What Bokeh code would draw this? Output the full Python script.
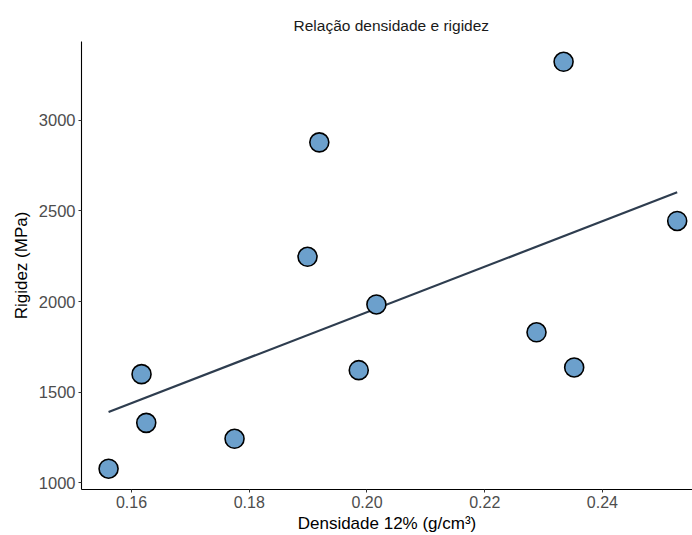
from bokeh.plotting import figure
from bokeh.models import Range1d, NumeralTickFormatter, FixedTicker
from bokeh.embed import file_html
from bokeh.resources import INLINE

# Data
densidade = [0.1561, 0.1617, 0.1625, 0.1775, 0.1899, 0.1919, 0.1986, 0.2016, 0.2288, 0.2334, 0.2352, 0.2527]
rigidez = [1077, 1599, 1330, 1242, 2247, 2879, 1621, 1984, 1830, 3324, 1636, 2445]
trend_x = [0.1561, 0.2527]
trend_y = [1390, 2603]
x_ticks = [0.16, 0.18, 0.20, 0.22, 0.24]
y_ticks = [1000, 1500, 2000, 2500, 3000]

FONT = "Liberation Sans"

p = figure(width=692, height=535, output_backend="svg", toolbar_location=None,
           x_range=Range1d(0.1515, 0.2553), y_range=Range1d(962, 3436),
           min_border_left=81, min_border_right=0, min_border_top=41, min_border_bottom=43,
           title="Relação densidade e rigidez")

p.title.align = "left"
p.title.offset = 212
p.title.standoff = 16
p.title.text_font = FONT
p.title.text_font_size = "15.5px"
p.title.text_font_style = "normal"
p.title.text_color = "#1a1a1a"

p.xgrid.visible = False
p.ygrid.visible = False
p.outline_line_color = None
p.background_fill_color = "white"
p.border_fill_color = "white"

p.line(trend_x, trend_y, line_color="#2e3d4f", line_width=2.2)
p.scatter(densidade, rigidez, size=19, fill_color="#6ca0cc", line_color="black", line_width=1.6)

for ax in (p.xaxis[0], p.yaxis[0]):
    ax.axis_line_color = "black"
    ax.axis_line_width = 1.1
    ax.major_tick_line_color = "#333333"
    ax.major_tick_in = 0
    ax.major_tick_out = 3
    ax.minor_tick_line_color = None
    ax.major_label_text_font = FONT
    ax.major_label_text_font_size = "16px"
    ax.major_label_text_color = "#4d4d4d"
    ax.axis_label_text_font = FONT
    ax.axis_label_text_font_size = "17px"
    ax.axis_label_text_font_style = "normal"
    ax.axis_label_text_color = "black"
    ax.major_label_standoff = 3
    ax.axis_label_standoff = 3

p.yaxis[0].major_label_text_font_size = "16.5px"
p.yaxis[0].axis_label_standoff = 5

p.xaxis.ticker = FixedTicker(ticks=x_ticks)
p.yaxis.ticker = FixedTicker(ticks=y_ticks)
p.xaxis.formatter = NumeralTickFormatter(format="0.00")
p.yaxis.formatter = NumeralTickFormatter(format="0")
p.xaxis.axis_label = "Densidade 12% (g/cm³)"
p.yaxis.axis_label = "Rigidez (MPa)"

open("out.html", "w").write(file_html(p, INLINE))
